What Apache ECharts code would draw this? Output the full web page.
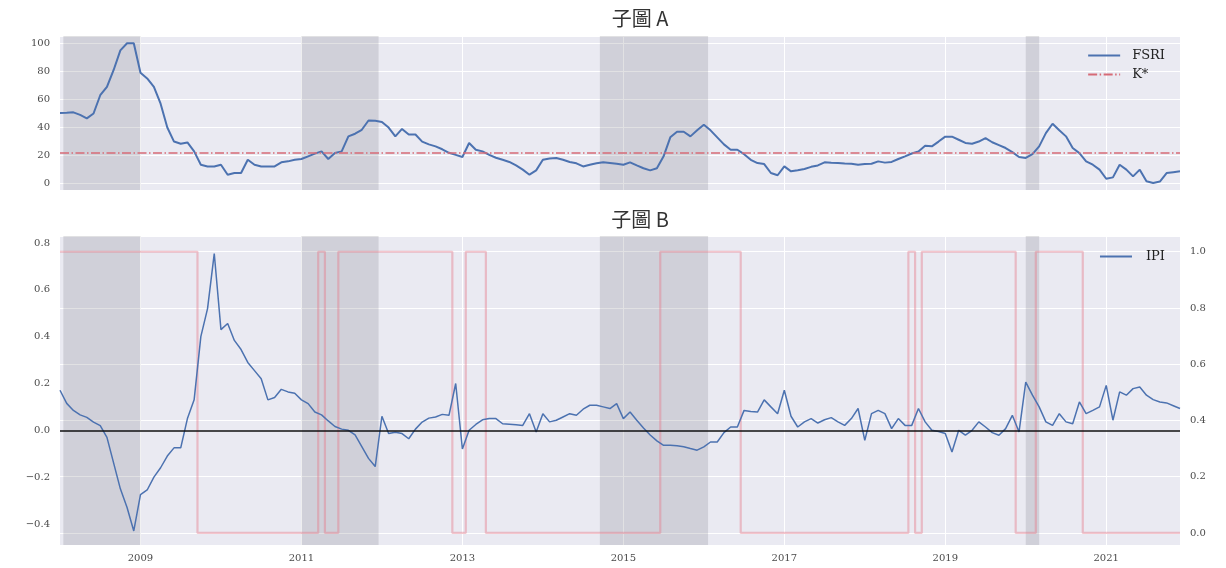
<!DOCTYPE html>
<html>
<head>
<meta charset="utf-8">
<script src="https://cdn.jsdelivr.net/npm/echarts@6/dist/echarts.min.js"></script>
<style>
  html, body { margin: 0; padding: 0; background: #fff; }
  #chart { width: 1226px; height: 568px; }
</style>
</head>
<body>
<div id="chart"></div>
<script>
// Monthly observations, 2008-01 .. 2021-12
const months = [];
for (let y = 2008; y <= 2021; y++) {
  for (let m = 1; m <= 12; m++) months.push(y + '-' + String(m).padStart(2, '0'));
}

// Financial stress risk index (panel A)
const fsri = [
  50.3, 50.5, 50.8, 49, 46.5, 50, 63, 69, 81, 95, 100, 100,
  79, 75, 69, 57, 40, 30, 28.5, 29.4, 23, 13.5, 12.3, 12.3,
  13.5, 6.4, 7.6, 7.6, 17, 13.5, 12.3, 12.3, 12.3, 15.2, 15.9, 17,
  17.6, 19.5, 21.4, 23, 17.6, 21.8, 23, 33.7, 35.6, 38.4, 45, 44.8,
  44, 40, 33.7, 39, 35, 35, 30, 28, 26.6, 24.5, 22, 20.5,
  19, 29, 24.2, 23, 20.5, 18.5, 17, 15.5, 13, 10, 6.4, 9.5,
  17, 18, 18.3, 17, 15.5, 14.5, 12.3, 13.5, 14.5, 15.2, 14.7, 14.2,
  13.5, 15.2, 13, 11, 9.5, 11, 19.5, 33, 37, 37, 33.7, 38,
  42, 38, 33, 28, 24.2, 24.2, 21, 17, 14.7, 14, 7.6, 6,
  12.3, 8.8, 9.5, 10.5, 12, 13, 15.2, 14.9, 14.7, 14.4, 14.2, 13.5,
  14, 14.2, 15.9, 15, 15.5, 17.6, 19.5, 21.5, 23, 27, 26.6, 30,
  33.5, 33.5, 31.3, 29, 28.5, 30, 32.5, 29.5, 27.5, 25.4, 22.5, 19,
  18.3, 21, 26.6, 36, 42.7, 38, 33.7, 25.4, 21.8, 15.9, 13.5, 10,
  3.5, 4.5, 13.5, 10, 5.2, 10, 1.7, 0.5, 1.5, 7.6, 8.2, 8.8
];

// Threshold K*
const K_STAR = 22.3;

// Industrial production indicator (panel B, left axis)
const ipi = [
  0.171, 0.115, 0.085, 0.066, 0.055, 0.035, 0.02, -0.03, -0.14, -0.25, -0.33, -0.43,
  -0.275, -0.255, -0.2, -0.16, -0.11, -0.075, -0.075, 0.05, 0.13, 0.4, 0.52, 0.755,
  0.43, 0.456, 0.384, 0.345, 0.29, 0.255, 0.22, 0.13, 0.14, 0.175, 0.164, 0.158,
  0.13, 0.114, 0.078, 0.066, 0.04, 0.016, 0.005, 0, -0.02, -0.07, -0.12, -0.155,
  0.06, -0.014, -0.008, -0.014, -0.036, 0.005, 0.035, 0.052, 0.057, 0.068, 0.064, 0.2,
  -0.08, 0, 0.025, 0.045, 0.05, 0.05, 0.028, 0.026, 0.024, 0.021, 0.071, -0.007,
  0.071, 0.036, 0.043, 0.057, 0.071, 0.064, 0.09, 0.107, 0.107, 0.1, 0.093, 0.114,
  0.05, 0.078, 0.043, 0.01, -0.02, -0.045, -0.064, -0.064, -0.066, -0.07, -0.078, -0.085,
  -0.071, -0.05, -0.05, -0.01, 0.014, 0.014, 0.085, 0.08, 0.078, 0.13, 0.1, 0.071,
  0.171, 0.06, 0.014, 0.036, 0.05, 0.031, 0.045, 0.054, 0.036, 0.021, 0.05, 0.093,
  -0.043, 0.071, 0.085, 0.071, 0.007, 0.05, 0.021, 0.021, 0.093, 0.036, 0, -0.005,
  -0.014, -0.093, 0, -0.021, 0, 0.036, 0.014, -0.01, -0.021, 0.007, 0.064, -0.007,
  0.206, 0.15, 0.1, 0.036, 0.021, 0.071, 0.036, 0.028, 0.121, 0.071, 0.085, 0.1,
  0.192, 0.043, 0.164, 0.15, 0.178, 0.185, 0.15, 0.131, 0.121, 0.117, 0.105, 0.093
];

// Regime indicator (panel B, right axis): 1 = high-stress regime
const regime = [
  1, 1, 1, 1, 1, 1, 1, 1, 1, 1, 1, 1,
  1, 1, 1, 1, 1, 1, 1, 1, 1, 0, 0, 0,
  0, 0, 0, 0, 0, 0, 0, 0, 0, 0, 0, 0,
  0, 0, 0, 1, 0, 0, 1, 1, 1, 1, 1, 1,
  1, 1, 1, 1, 1, 1, 1, 1, 1, 1, 1, 0,
  0, 1, 1, 1, 0, 0, 0, 0, 0, 0, 0, 0,
  0, 0, 0, 0, 0, 0, 0, 0, 0, 0, 0, 0,
  0, 0, 0, 0, 0, 0, 1, 1, 1, 1, 1, 1,
  1, 1, 1, 1, 1, 1, 0, 0, 0, 0, 0, 0,
  0, 0, 0, 0, 0, 0, 0, 0, 0, 0, 0, 0,
  0, 0, 0, 0, 0, 0, 0, 1, 0, 1, 1, 1,
  1, 1, 1, 1, 1, 1, 1, 1, 1, 1, 1, 0,
  0, 0, 1, 1, 1, 1, 1, 1, 1, 0, 0, 0,
  0, 0, 0, 0, 0, 0, 0, 0, 0, 0, 0, 0
];

// Shaded periods (start, end dates)
const shadedPeriods = [
  ['2008-01-16', '2009-01-01'],
  ['2011-01-01', '2011-12-16'],
  ['2014-09-16', '2016-01-20'],
  ['2020-01-01', '2020-03-01']
];

// Tick labels shown on the time axis: January of odd years
const yearTicks = ['2009', '2011', '2013', '2015', '2017', '2019', '2021'];

const BG = '#EAEAF2';
const BLUE = '#4C72B0';
const TICK_FONT = { fontFamily: 'DejaVu Serif', fontSize: 10, color: '#4a4a4a' };

function monthIndex(dateStr) {
  const [y, m, d] = dateStr.split('-').map(Number);
  return (y - 2008) * 12 + (m - 1) + (d - 1) / 30;
}
const bandData = shadedPeriods.map(p => [{ xAxis: monthIndex(p[0]) }, { xAxis: monthIndex(p[1]) }]);

function isYearTick(index, value) {
  return value.slice(5) === '01' && yearTicks.indexOf(value.slice(0, 4)) >= 0;
}
function onStep(v, step) {
  return Math.abs(v / step - Math.round(v / step)) < 1e-6;
}
function fmt1(v) {
  const s = Math.abs(v).toFixed(1);
  return (v < -1e-9 ? '\u2212' : '') + s;
}

const chart = echarts.init(document.getElementById('chart'), null, { renderer: 'canvas' });

const gridLine = { show: true, lineStyle: { color: '#ffffff', width: 1 } };
const legendText = { fontFamily: 'DejaVu Serif', fontSize: 13, color: '#222' };

chart.setOption({
  animation: false,
  backgroundColor: '#ffffff',
  graphic: [
    { type: 'text', x: 640, y: 18, z: 10,
      style: { text: '子圖 A', font: '20px "Noto Sans CJK TC"', fill: '#333', align: 'center', verticalAlign: 'middle', textAlign: 'center', textVerticalAlign: 'middle' } },
    { type: 'text', x: 640, y: 219, z: 10,
      style: { text: '子圖 B', font: '20px "Noto Sans CJK TC"', fill: '#333', align: 'center', verticalAlign: 'middle', textAlign: 'center', textVerticalAlign: 'middle' } }
  ],
  grid: [
    { left: 60, right: 46, top: 36, height: 154, show: true, backgroundColor: BG, borderWidth: 0 },
    { left: 60, right: 46, top: 236, height: 309, show: true, backgroundColor: BG, borderWidth: 0 }
  ],
  legend: [
    { data: ['FSRI', 'K*'], orient: 'vertical', right: 56, top: 44, itemWidth: 32, itemHeight: 12, itemGap: 6,
      itemStyle: { opacity: 0 },
      textStyle: Object.assign({ padding: [0, 0, 0, 7] }, legendText) },
    { data: ['IPI'], orient: 'vertical', right: 56, top: 245, itemWidth: 32, itemHeight: 12,
      itemStyle: { opacity: 0 },
      textStyle: Object.assign({ padding: [0, 0, 0, 9] }, legendText) }
  ],
  xAxis: [
    { type: 'category', gridIndex: 0, data: months, boundaryGap: false,
      axisLine: { show: false }, axisTick: { show: false }, axisLabel: { show: false },
      splitLine: Object.assign({ interval: isYearTick }, gridLine) },
    { type: 'category', gridIndex: 1, data: months, boundaryGap: false,
      axisLine: { show: false }, axisTick: { show: false },
      axisLabel: Object.assign({ interval: isYearTick, formatter: v => v.slice(0, 4), margin: 8 }, TICK_FONT),
      splitLine: Object.assign({ interval: isYearTick }, gridLine) },
    { type: 'value', gridIndex: 0, min: 0, max: months.length - 1, show: false },
    { type: 'value', gridIndex: 1, min: 0, max: months.length - 1, show: false }
  ],
  yAxis: [
    { type: 'value', gridIndex: 0, min: -4.5, max: 105.2, splitNumber: 5,
      axisLine: { show: false }, axisTick: { show: false },
      axisLabel: Object.assign({ margin: 10, formatter: v => onStep(v, 20) ? String(Math.round(v)) : '' }, TICK_FONT),
      splitLine: gridLine },
    { type: 'value', gridIndex: 1, min: -0.49, max: 0.83, splitNumber: 6,
      axisLine: { show: false }, axisTick: { show: false },
      axisLabel: Object.assign({ margin: 10, formatter: v => onStep(v, 0.2) ? fmt1(v) : '' }, TICK_FONT),
      splitLine: { show: false } },
    { type: 'value', gridIndex: 1, position: 'right', min: -0.043, max: 1.056, splitNumber: 5,
      axisLine: { show: false }, axisTick: { show: false },
      axisLabel: Object.assign({ margin: 10, formatter: v => onStep(v, 0.2) ? fmt1(v) : '' }, TICK_FONT),
      splitLine: gridLine }
  ],
  series: [
    { name: 'bandsA', type: 'line', xAxisIndex: 2, yAxisIndex: 0, data: [], silent: true, z: 1,
      markArea: { silent: true, itemStyle: { color: 'rgba(120,120,128,0.22)' }, data: bandData } },
    { name: 'bandsB', type: 'line', xAxisIndex: 3, yAxisIndex: 1, data: [], silent: true, z: 1,
      markArea: { silent: true, itemStyle: { color: 'rgba(120,120,128,0.22)' }, data: bandData } },
    { name: 'FSRI', type: 'line', xAxisIndex: 0, yAxisIndex: 0, data: fsri, symbol: 'none', z: 4,
      lineStyle: { color: BLUE, width: 2 }, itemStyle: { color: BLUE } },
    { name: 'K*', type: 'line', xAxisIndex: 0, yAxisIndex: 0, data: [], symbol: 'none', z: 3,
      lineStyle: { color: '#d66b77', width: 1.5, type: [9, 2.5, 1.5, 2.5] }, itemStyle: { color: '#d66b77' },
      markLine: { silent: true, symbol: 'none', label: { show: false },
        lineStyle: { color: '#d66b77', width: 1.5, type: [9, 2.5, 1.5, 2.5] },
        data: [{ yAxis: K_STAR }] } },
    { name: 'regime', type: 'line', xAxisIndex: 1, yAxisIndex: 2, data: regime, symbol: 'none', step: 'middle', z: 3,
      lineStyle: { color: 'rgba(228,120,135,0.42)', width: 2.2 } },
    { name: 'IPI', type: 'line', xAxisIndex: 1, yAxisIndex: 1, data: ipi, symbol: 'none', z: 4,
      lineStyle: { color: BLUE, width: 1.5 }, itemStyle: { color: BLUE },
      markLine: { silent: true, symbol: 'none', label: { show: false },
        lineStyle: { color: '#111', width: 1.5, type: 'solid' },
        data: [{ yAxis: 0 }] } }
  ]
});
</script>
</body>
</html>
